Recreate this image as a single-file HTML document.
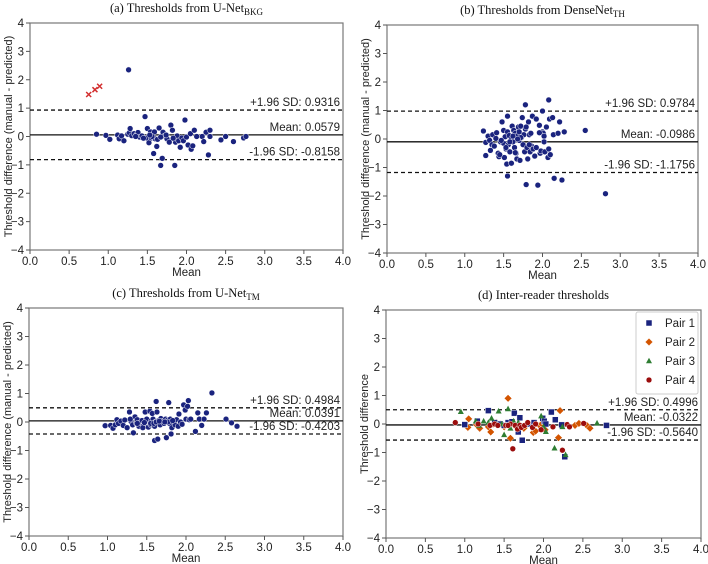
<!DOCTYPE html>
<html><head><meta charset="utf-8"><style>
body{margin:0;background:#fff;}
svg{display:block;font-family:"Liberation Sans",sans-serif;}
.tk{font-size:11.5px;fill:#222;}
.tt{font-family:"Liberation Serif",serif;font-size:12.5px;fill:#111;}
.lab{font-size:11.5px;fill:#222;}
.ylab{font-size:11px;fill:#222;}
</style></head><body>
<svg id="c" width="708" height="564" xmlns="http://www.w3.org/2000/svg"></svg>
<script>
// Panel (a)
const aMeanX=[1.26,0.85,0.97,1.02,1.12,1.14,1.17,1.2,1.25,1.27,1.28,1.3,1.33,1.36,1.38,1.4,1.43,1.47,1.49,1.5,1.52,1.54,1.55,1.58,1.59,1.6,1.62,1.65,1.67,1.69,1.7,1.72,1.75,1.78,1.8,1.82,1.85,1.86,1.88,1.9,1.92,1.94,1.96,1.98,2.0,2.02,2.05,2.06,2.08,2.1,2.13,2.2,2.22,2.25,2.28,2.3,2.3,2.44,2.5,2.6,2.73,2.76,1.45,1.56,1.63,1.74,1.67,1.83,1.35,1.53];
const aDiff=[2.35,0.08,0.04,-0.1,0.05,-0.08,0.02,-0.15,0.08,0.13,0.28,0.03,0.1,0.05,0.14,-0.02,0.02,0.7,-0.05,0.28,-0.22,0.16,-0.05,-0.6,0.16,-0.08,-0.35,0.3,-1.02,-0.77,0.15,0.02,-0.08,-0.2,0.4,0.22,-1.02,-0.2,0.02,-0.15,-0.38,-0.05,-0.15,0.58,-0.02,-0.3,0.1,-0.45,-0.33,0.22,0.0,0.0,-0.18,0.15,-0.65,0.22,0.0,-0.12,0.0,-0.18,-0.05,0.0,-0.06,0.0,-0.1,0.05,-0.02,-0.06,0.0,0.05];
const aOutX=[0.75,0.83,0.89];
const aOutY=[1.48,1.65,1.77];
const aStats=[0.9316,0.0579,-0.8158];
// Panel (b)
const bMeanX=[1.24,1.27,1.27,1.3,1.32,1.33,1.35,1.36,1.38,1.4,1.41,1.43,1.44,1.46,1.48,1.5,1.5,1.51,1.52,1.53,1.54,1.55,1.55,1.56,1.57,1.58,1.6,1.6,1.61,1.62,1.63,1.64,1.65,1.66,1.67,1.68,1.69,1.7,1.7,1.71,1.72,1.73,1.74,1.75,1.76,1.77,1.78,1.78,1.79,1.8,1.81,1.82,1.83,1.84,1.85,1.86,1.87,1.88,1.9,1.92,1.94,1.96,1.97,1.98,2.0,2.0,2.01,2.02,2.03,2.05,2.07,2.08,2.08,2.09,2.1,2.13,2.14,2.15,2.2,2.22,2.25,2.28,2.55,2.81,1.55,1.79,1.96,1.58,1.47,1.65,1.72,1.83,1.92,2.02,1.62,1.68,1.53,1.45];
const bDiff=[0.28,-0.12,-0.58,0.1,-0.05,-0.4,-0.2,0.15,-0.25,0.02,0.22,-0.5,-0.62,-0.1,0.6,0.3,-0.15,-0.65,0.08,-0.35,-0.88,0.8,0.25,-0.2,0.12,-0.45,0.0,-0.85,0.45,-0.1,0.3,-0.3,0.2,-0.5,-0.7,0.12,0.42,-0.05,0.25,-0.75,0.45,0.05,0.75,-0.2,0.15,-0.45,0.35,1.2,0.42,-0.3,-0.7,0.6,0.15,-0.45,0.2,-0.25,0.8,-0.35,-0.6,0.7,-1.62,0.48,-0.5,-0.42,0.25,0.98,0.2,0.1,-0.45,0.42,-0.65,1.37,-0.35,0.7,-0.55,0.75,0.15,-1.38,0.2,0.6,-1.44,0.25,0.3,-1.92,-1.3,-1.6,0.22,-0.1,-0.05,-0.48,0.05,-0.2,-0.3,-0.1,0.1,0.0,-0.3,-0.55];
const bStats=[0.9784,-0.0986,-1.1756];
// Panel (c)
const cMeanX=[0.97,1.04,1.07,1.1,1.12,1.14,1.17,1.2,1.22,1.25,1.28,1.3,1.32,1.33,1.35,1.37,1.38,1.4,1.42,1.44,1.46,1.48,1.49,1.5,1.52,1.54,1.55,1.56,1.57,1.58,1.6,1.6,1.61,1.62,1.63,1.64,1.65,1.67,1.68,1.7,1.72,1.74,1.75,1.76,1.78,1.79,1.8,1.81,1.82,1.84,1.86,1.88,1.9,1.91,1.93,1.95,1.97,1.99,2.0,2.02,2.03,2.04,2.06,2.12,2.15,2.17,2.2,2.23,2.26,2.33,2.51,2.58,2.65,1.29,1.45,1.55,1.59,1.62,1.77,1.83,1.38,1.47,1.66,1.73];
const cDiff=[-0.13,-0.12,-0.22,-0.1,0.08,-0.05,0.03,-0.12,0.07,-0.2,0.35,0.02,-0.1,-0.38,0.18,-0.05,0.08,-0.15,-0.02,0.05,-0.12,0.35,0.02,0.1,-0.18,0.38,-0.1,0.05,0.3,0.1,-0.65,-0.15,0.0,0.72,0.35,-0.6,0.05,-0.1,0.12,0.02,-0.05,0.1,-0.55,0.05,0.68,-0.05,0.1,-0.42,-0.2,0.05,-0.1,0.08,-0.15,0.28,0.0,-0.08,0.6,0.42,0.1,0.55,0.75,0.08,0.1,-0.33,0.32,0.1,-0.12,0.1,0.32,1.02,0.1,-0.03,-0.15,0.1,-0.2,-0.05,-0.05,0.0,0.0,0.05,-0.05,-0.02,0.03,0.0];
const cStats=[0.4984,0.0391,-0.4203];
// Panel (d)
const p1X=[1.0,1.16,1.3,1.38,1.45,1.55,1.63,1.68,1.7,1.73,1.88,1.99,2.01,2.03,2.1,2.15,2.23,2.27,2.8,1.5,1.6,1.8];
const p1Y=[-0.02,0.1,0.47,0.05,0.0,0.05,0.38,-0.28,0.22,-0.57,0.05,0.2,0.1,0.0,0.42,0.15,-0.03,-1.15,-0.05,-0.05,0.08,0.0];
const p2X=[1.04,1.05,1.15,1.19,1.3,1.33,1.36,1.4,1.5,1.55,1.58,1.62,1.7,1.75,1.8,1.87,1.9,1.95,1.98,2.02,2.19,2.21,2.4,2.45,2.55,2.59,1.45,1.65];
const p2Y=[-0.12,0.18,-0.02,-0.15,-0.1,-0.28,0.0,0.05,-0.1,0.9,-0.5,0.0,-0.05,-0.15,0.0,-0.3,-0.25,-0.05,0.0,-0.2,-0.48,0.47,-0.05,0.02,-0.05,-0.15,0.0,-0.1];
const p3X=[0.95,1.14,1.18,1.24,1.3,1.34,1.43,1.47,1.5,1.55,1.58,1.62,1.68,1.97,2.0,2.03,2.14,2.24,2.28,2.68,1.4];
const p3Y=[0.43,0.1,-0.05,0.1,0.05,0.2,0.45,0.0,-0.38,0.53,-0.15,0.1,0.05,0.28,-0.1,-0.27,-0.85,-0.1,-1.08,0.03,0.0];
const p4X=[0.88,1.17,1.32,1.38,1.42,1.52,1.58,1.61,1.64,1.67,1.7,1.72,1.76,1.8,1.86,1.97,2.12,2.24,2.3,2.33,2.51,1.9,1.55];
const p4Y=[0.05,0.0,-0.05,0.0,-0.05,-0.05,0.0,-0.87,-0.05,-0.18,-0.05,-0.12,-0.05,0.05,-0.12,-0.2,-0.1,-0.92,-0.02,-0.1,0.02,0.0,-0.05];
const dStats=[0.4996,-0.0322,-0.5640];
const xTicks=[0.0,0.5,1.0,1.5,2.0,2.5,3.0,3.5,4.0];
const yTicks=[4,3,2,1,0,-1,-2,-3,-4];

const NS="http://www.w3.org/2000/svg";
const svg=document.getElementById('c');
function mk(tag,attrs,parent){const e=document.createElementNS(NS,tag);for(const k in attrs)e.setAttribute(k,attrs[k]);(parent||svg).appendChild(e);return e;}
const NAVY="#1a237e";
function panel(id,L,R,T,B,titleMain,titleSub,ylabel,stats){
  const g=mk('g',{});
  
  
  const sx=v=>L+(v-0)/4*(R-L), sy=v=>T+(4-v)/8*(B-T);
  const fr=mk('rect',{x:L,y:T,width:R-L,height:B-T,fill:'none',stroke:'#777','stroke-width':1.2},g);
  
  
  xTicks.forEach(v=>{
    mk('line',{x1:sx(v),x2:sx(v),y1:B,y2:B+4,stroke:'#555'},g);
    const t=mk('text',{x:sx(v),y:B+15,'text-anchor':'middle',class:'tk'},g);t.textContent=v.toFixed(1);
    
    
  });
  yTicks.forEach(v=>{
    mk('line',{x1:L-4,x2:L,y1:sy(v),y2:sy(v),stroke:'#555'},g);
    const t=mk('text',{x:L-6,y:sy(v)+4,'text-anchor':'end',class:'tk'},g);t.textContent=(v<0?'\u2212'+(-v):v);
    
    
  });
  const xt=mk('text',{x:(L+R)/2,y:B+26,'text-anchor':'middle',class:'lab'},g);xt.textContent='Mean';
  
  
  const yx=L-18,yy=(T+B)/2;
  const yt=mk('text',{x:yx,y:yy,'text-anchor':'middle',class:'ylab',transform:`rotate(-90 ${yx} ${yy})`},g);yt.textContent=ylabel;
  
  
  const tt=mk('text',{x:(L+R)/2,y:T-11,'text-anchor':'middle',class:'tt'},g);
  
  
  tt.appendChild(document.createTextNode(titleMain));
  if(titleSub){const ts=mk('tspan',{'font-size':'9px',dy:3},tt);ts.textContent=titleSub;}
  const names=['upper-loa-line','mean-line','lower-loa-line'];
  const labs=['+1.96 SD: ','Mean: ','-1.96 SD: '];
  stats.forEach((s,i)=>{
    const ln=mk('line',{x1:L,x2:R,y1:sy(s),y2:sy(s),stroke:'#111','stroke-width':1.3,'stroke-dasharray':i===1?'':'4,3'},g);
    
    
    const t=mk('text',{x:R-3,y:sy(s)-4,'text-anchor':'end',class:'lab'},g);
    t.textContent=labs[i]+s.toFixed(4);
    
    
  });
  return {g,sx,sy};
}
function dots(p,xs,ys,shape,color,name){
  xs.forEach((x,i)=>{
    const cx=p.sx(x),cy=p.sy(ys[i]);let e;
    if(shape==='c')e=mk('circle',{cx,cy,r:2.9,fill:color,stroke:'#fff','stroke-width':0.5},p.g);
    else if(shape==='s')e=mk('rect',{x:cx-3,y:cy-3,width:6,height:6,fill:color,stroke:'#fff','stroke-width':0.5},p.g);
    else if(shape==='d')e=mk('polygon',{points:`${cx},${cy-3.8} ${cx+3.8},${cy} ${cx},${cy+3.8} ${cx-3.8},${cy}`,fill:color,stroke:'#fff','stroke-width':0.5},p.g);
    else if(shape==='t')e=mk('polygon',{points:`${cx},${cy-3.3} ${cx+3},${cy+2.3} ${cx-3},${cy+2.3}`,fill:color},p.g);
    else if(shape==='x'){e=mk('path',{d:`M${cx-2.5},${cy-2.5}L${cx+2.5},${cy+2.5}M${cx+2.5},${cy-2.5}L${cx-2.5},${cy+2.5}`,stroke:color,'stroke-width':1.5},p.g);}
    
    
  });
}
const YL='Threshold difference (manual - predicted)';
const pa=panel('a',30,343,23,250,'(a) Thresholds from U-Net','BKG',YL,aStats);
dots(pa,aMeanX,aDiff,'c',NAVY,'point');
dots(pa,aOutX,aOutY,'x','#d32f2f','outlier-point');
const pb=panel('b',387,698,25,253,'(b) Thresholds from DenseNet','TH',YL,bStats);
dots(pb,bMeanX,bDiff,'c',NAVY,'point');
const pc=panel('c',29,343,308,536,'(c) Thresholds from U-Net','TM',YL,cStats);
dots(pc,cMeanX,cDiff,'c',NAVY,'point');
const pd=panel('d',386,701,310,538,'(d) Inter-reader thresholds','', 'Threshold difference',dStats);
dots(pd,p2X,p2Y,'d','#d35400','pair-2-point');
dots(pd,p1X,p1Y,'s',NAVY,'pair-1-point');
dots(pd,p3X,p3Y,'t','#2e7d32','pair-3-point');
dots(pd,p4X,p4Y,'c','#9b0d0d','pair-4-point');
// legend
const lg=mk('g',{});


mk('rect',{x:636,y:312,width:62,height:82,fill:'#fff',stroke:'#ccc',rx:2},lg);
const legNames=['Pair 1','Pair 2','Pair 3','Pair 4'];
const legShapes=['s','d','t','c'];
const legCols=[NAVY,'#d35400','#2e7d32','#9b0d0d'];
legNames.forEach((n,i)=>{
  const y=323+i*19;
  const fake={g:lg,sx:v=>v,sy:v=>v};
  dots(fake,[649],[y],legShapes[i],legCols[i],'legend-marker');
  const t=mk('text',{x:665,y:y+4,class:'lab'},lg);t.textContent=n;
  
  
});
</script>
</body></html>
